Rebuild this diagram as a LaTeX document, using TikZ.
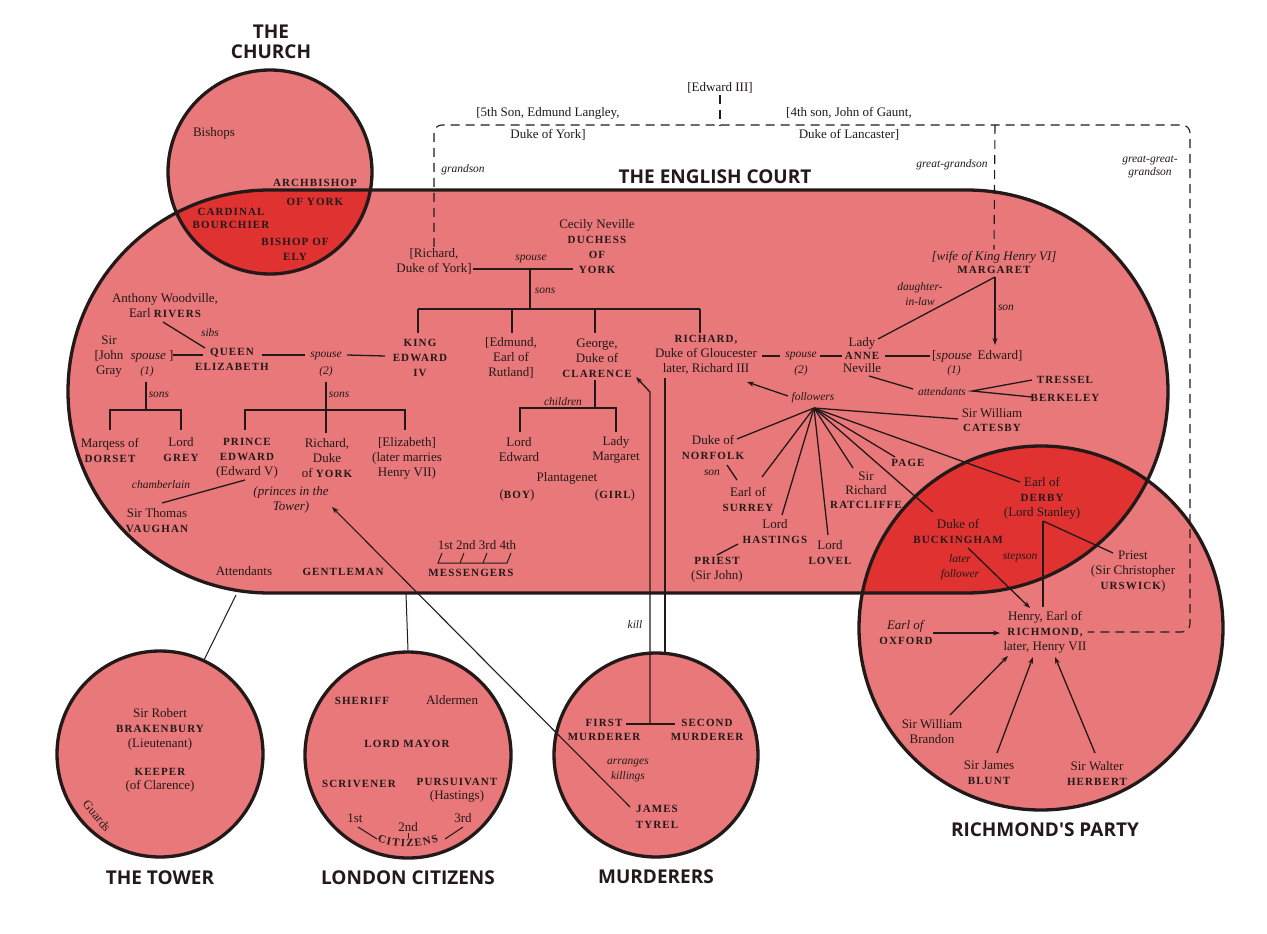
\documentclass[tikz,border=0pt]{standalone}
\usepackage{fontspec}
\setmainfont{Liberation Serif}
\newfontfamily\capsfont{Liberation Serif}[LetterSpace=10]
\newfontfamily\titlefont{Open Sans}
\usetikzlibrary{arrows.meta}
\definecolor{pinkfill}{RGB}{233,120,122}
\definecolor{redfill}{RGB}{225,50,50}
\definecolor{ink}{RGB}{35,25,25}
\newcommand\SC[1]{{\capsfont\bfseries\fontsize{11}{15}\selectfont #1}}
\begin{document}
\begin{tikzpicture}[x=1pt,y=-1pt,
  every node/.style={text=ink, inner sep=1pt},
  txt/.style={font=\fontsize{13}{15}\selectfont, align=center},
  lab/.style={font=\itshape\fontsize{11.5}{13}\selectfont, align=center},
  capt/.style={font=\capsfont\bfseries\fontsize{11}{15}\selectfont, align=center},
  ttl/.style={font=\titlefont\bfseries\fontsize{19}{22}\selectfont, align=center},
  conn/.style={draw=ink, line width=1.3pt},
  thinl/.style={draw=ink, line width=1pt},
  arr/.style={conn, -{Stealth[length=7pt,width=5pt]}},
  dsh/.style={draw=ink, line width=1.1pt, dash pattern=on 9pt off 6pt},
  ring/.style={draw=ink, line width=3.3pt},
  disc/.style={circle, fill=pinkfill, draw=ink, line width=3.3pt, inner sep=0pt},
]
\useasboundingbox (0,0) rectangle (1267,934);
\fill[white] (0,0) rectangle (1267,934);

% ---------- big shapes ----------
\fill[pinkfill] (270,172) circle[radius=102];
\fill[pinkfill, rounded corners=201.5pt] (68,190) rectangle (1168,593);
\fill[pinkfill] (1041,628) circle[radius=182];
\begin{scope}
  \clip[rounded corners=201.5pt] (68,190) rectangle (1168,593);
  \fill[redfill] (270,172) circle[radius=102];
  \fill[redfill] (1041,628) circle[radius=182];
\end{scope}
\draw[ring] (270,172) circle[radius=102];
\draw[ring] (1041,628) circle[radius=182];
\draw[ring, rounded corners=201.5pt] (68,190) rectangle (1168,593);
\node[circle, minimum size=204pt, inner sep=0pt] (church) at (270,172) {};
\node[circle, minimum size=364pt, inner sep=0pt] (richmondP) at (1041,628) {};
\coordinate (courtTower) at (236,595);
\coordinate (courtLondon) at (406,594);

\node[disc, minimum size=206pt] (tower) at (160,754) {};
\node[disc, minimum size=206pt] (london) at (408,755) {};
\node[disc, minimum size=204pt] (murderers) at (656,755) {};

% ---------- titles ----------
\node[ttl] (tChurch) at (271,42) {THE\\[-2pt]CHURCH};
\node[ttl] (tCourt) at (715,177) {THE ENGLISH COURT};
\node[ttl] (tTower) at (160,878) {THE TOWER};
\node[ttl] (tLondon) at (408,878) {LONDON CITIZENS};
\node[ttl] (tMurd) at (656,877) {MURDERERS};
\node[ttl] (tRich) at (1045,830) {RICHMOND'S PARTY};

% ---------- church ----------
\node[txt] (bishops) at (214,133) {Bishops};
\node[capt] (archy) at (315,192.5) {ARCHBISHOP\\[4pt]OF YORK};
\node[capt] (bourchier) at (231,218.5) {CARDINAL\\[-1.5pt]BOURCHIER};
\node[capt] (ely) at (295,249.5) {BISHOP OF\\ELY};

% ---------- ancestry (dashed) ----------
\node[txt] (e3) at (720,88) {{[}Edward III]};
\node[txt] (langley) at (548,124) {{[}5th Son, Edmund Langley,\\[7pt]Duke of York]};
\node[txt] (gaunt) at (849,124) {{[}4th son, John of Gaunt,\\[7pt]Duke of Lancaster]};
\node[lab] (grandson) at (463,170) {grandson};
\node[lab] (ggs) at (952,165) {great-grandson};
\node[lab] (gggs) at (1150,167) {great-great-\\grandson};

% ---------- York family ----------
\node[txt] (cecily) at (597,246.5) {Cecily Neville\\\SC{DUCHESS}\\\SC{OF}\\\SC{YORK}};
\node[txt] (ryork) at (434,261) {{[}Richard,\\Duke of York]};
\node[lab] (sp0) at (531,259) {spouse};
\node[lab] (sons0) at (545,291) {sons};
\draw[conn] (ryork.east |- 0,269) -- (573,269);
\draw[conn] (530,269) -- (530,309);
\draw[conn] (418,309) -- (700,309);

\node[capt] (kingE) at (420,358) {KING\\EDWARD\\IV};
\node[txt] (edmund) at (511,357.5) {{[}Edmund,\\Earl of\\Rutland]};
\node[txt] (george) at (597,358) {George,\\Duke of\\\SC{CLARENCE}};
\node[txt] (richard) at (706,355) {\SC{RICHARD,}\\Duke of Gloucester\\later, Richard III};
\draw[conn] (418,309) -- (418,333);
\draw[conn] (512,309) -- (512,333);
\draw[conn] (595,309) -- (595,333);
\draw[conn] (700,309) -- (700,333);

% ---------- Woodville side ----------
\node[txt] (rivers) at (165,305.5) {Anthony Woodville,\\Earl \SC{RIVERS}};
\node[lab] (sibs) at (210,333) {sibs};
\node[capt] (queen) at (232,359.5) {QUEEN\\ELIZABETH};
\draw[conn] (163,322) -- (205,348);
\node[txt] (gray) at (109,356.5) {Sir\\{[}John\\Gray};
\node[txt] (sp1) at (152,356) {\textit{spouse} ]};
\node[lab] (n1) at (147,372) {(1)};
\draw[conn] (173,355) -- (203,355);
\draw[conn] (262,355) -- (305,355);
\node[lab] (sp2) at (326,356) {spouse};
\node[lab] (n2) at (326,372) {(2)};
\draw[conn] (347,355) -- (385,356);

\draw[conn] (146,382) -- (146,410);
\node[lab] (sonsL) at (159,395) {sons};
\draw[conn] (110,430) -- (110,410) -- (181,410) -- (181,430);
\node[txt] (dorset) at (110,450) {Marqess of\\\SC{DORSET}};
\node[txt] (grey) at (181,450) {Lord\\\SC{GREY}};

\draw[conn] (326,382) -- (326,433);
\node[lab] (sonsR) at (339,395) {sons};
\draw[conn] (245,430) -- (245,410) -- (405,410) -- (405,430);
\node[txt] (pedward) at (247,458) {\SC{PRINCE}\\\SC{EDWARD}\\(Edward V)};
\node[txt] (ryork2) at (327,458) {Richard,\\Duke\\of \SC{YORK}};
\node[txt] (eliz) at (407,458) {{[}Elizabeth]\\(later marries\\Henry VII)};
\node[lab] (chamb) at (161,485) {chamberlain};
\draw[conn] (245,480) -- (162,503);
\node[txt] (vaughan) at (157,520.5) {Sir Thomas\\\SC{VAUGHAN}};
\node[txt, font=\itshape\fontsize{13}{15}\selectfont] (princes) at (291,499.5) {(princes in the\\Tower)};

\node[txt] (attendants) at (244,571) {Attendants};
\node[capt] (gentleman) at (343,572) {GENTLEMAN};
\node[txt] (msgnum) at (477,545) {1st 2nd 3rd 4th};
\node[capt] (msg) at (471,573) {MESSENGERS};
\draw[thinl] (442,553) -- (438,563) -- (507,563) -- (511,553);
\draw[thinl] (460,563) -- (464,553);
\draw[thinl] (483,563) -- (487,553);

% ---------- Clarence children ----------
\draw[conn] (595,380) -- (595,408);
\node[lab] (children) at (563,402) {children};
\draw[conn] (520,432) -- (520,408) -- (616,408) -- (616,432);
\node[txt] (ledward) at (519,449.5) {Lord\\Edward};
\node[txt] (lmarg) at (616,449.5) {Lady\\Margaret};
\node[txt] (plant) at (567,478) {Plantagenet};
\node[txt] (boy) at (517,495) {(\SC{BOY})};
\node[txt] (girl) at (615,495) {(\SC{GIRL})};

% ---------- Anne / Margaret ----------
\draw[conn] (762,356) -- (780,356);
\node[lab] (sp3) at (801,356) {spouse};
\node[lab] (n3) at (801,371) {(2)};
\draw[conn] (820,356) -- (842,356);
\node[txt] (anne) at (862,355) {Lady\\[-2pt]\SC{ANNE}\\[-2pt]Neville};
\draw[conn] (885,356) -- (930,356);
\node[txt] (spE) at (952,356) {{[}\textit{spouse}};
\node[txt] (edward) at (1000,356) {Edward]};
\node[lab] (n4) at (954,371) {(1)};
\node[txt] (margaret) at (994,262) {\textit{{[}wife of King Henry VI]}\\[-2pt]\SC{MARGARET}};
\draw[arr] (995,277) -- (995,345);
\draw[conn] (995,277) -- (878,339);
\node[lab] (son) at (1006,308) {son};
\node[lab] (dil) at (920,294.5) {daughter-\\[2pt]in-law};

\node[lab] (attd) at (942,392) {attendants};
\draw[conn] (869,376) -- (913,389);
\draw[conn] (1032,380) -- (972,391) -- (1032,397);
\node[capt] (tressel) at (1065,380) {TRESSEL};
\node[capt] (berkeley) at (1065,398) {BERKELEY};
\node[txt] (catesby) at (992,420) {Sir William\\[-1pt]\SC{CATESBY}};

% ---------- followers ----------
\node[lab] (foll) at (813,398) {followers};
\draw[arr] (788,396) -- (747,382);
\coordinate (hub) at (814,408);
\draw[conn] (hub) -- (958,419);
\draw[conn] (hub) -- (737,439);
\draw[conn] (hub) -- (762,477);
\draw[conn] (hub) -- (782,515);
\draw[conn] (hub) -- (828,535);
\draw[conn] (hub) -- (853,468);
\draw[conn] (hub) -- (895,457);
\draw[conn] (hub) -- (933,512);
\draw[conn] (hub) -- (1020,482);

\node[txt] (norfolk) at (713,447.5) {Duke of\\\SC{NORFOLK}};
\node[lab] (sonN) at (712,473) {son};
\draw[conn] (727,465) -- (737,480);
\node[txt] (surrey) at (748,499) {Earl of\\\SC{SURREY}};
\node[txt] (hastings) at (775,532) {Lord\\\SC{HASTINGS}};
\draw[conn] (738,544) -- (717,555);
\node[txt] (priestJ) at (717,570) {\SC{PRIEST}\\(Sir John)};
\node[txt] (lovel) at (830,553) {Lord\\\SC{LOVEL}};
\node[txt] (ratcliffe) at (866,490) {Sir\\[-1pt]Richard\\[-1pt]\SC{RATCLIFFE}};
\node[capt] (page) at (908,463) {PAGE};
\node[txt] (derby) at (1042,498) {Earl of\\\SC{DERBY}\\(Lord Stanley)};
\node[txt] (buck) at (958,531) {Duke of\\\SC{BUCKINGHAM}};

% ---------- Richmond's party ----------
\node[lab] (later) at (960,567.5) {later\\[2pt]follower};
\node[lab] (stepson) at (1020,557) {stepson};
\draw[arr] (968,548) -- (1030,608);
\draw[conn] (1043,521) -- (1043,607);
\draw[conn] (1043,521) -- (1113,553);
\node[txt] (priestU) at (1133,572) {Priest\\(Sir Christopher\\\SC{URSWICK})};
\node[txt] (henry) at (1045,632) {Henry, Earl of\\\SC{RICHMOND,}\\later, Henry VII};
\node[txt] (oxford) at (906,632.5) {\textit{Earl of}\\\SC{OXFORD}};
\draw[arr] (933,633) -- (1000,633);
\node[txt] (brandon) at (932,732) {Sir William\\Brandon};
\draw[arr] (950,715) -- (1008,656);
\node[txt] (blunt) at (989,773) {Sir James\\\SC{BLUNT}};
\draw[arr] (997,753) -- (1033,657);
\node[txt] (herbert) at (1097,773) {Sir Walter\\\SC{HERBERT}};
\draw[arr] (1095,753) -- (1055,657);

% ---------- dashed lineage ----------
\draw[dsh] (e3.south) -- (720,125);
\draw[dsh, rounded corners=8pt] (ryork.north) -- (ryork.north |- 0,125) -- (1190,125) -- (1190,632) -- (henry.east);
\draw[dsh] (995,125) -- (margaret.north);

% ---------- murderers ----------
\draw[arr] (650,724) -- (650,392) -- (636,377);
\draw[conn] (665,653) -- (665,378);
\node[lab] (kill) at (635,625) {kill};
\draw[conn] (626,724) -- (675,724);
\node[capt] (first) at (604,730) {FIRST\\[-1pt]MURDERER};
\node[capt] (second) at (707,730) {SECOND\\[-1pt]MURDERER};
\node[lab] (arranges) at (628,770.5) {arranges\\[2pt]killings};
\node[capt] (tyrel) at (657,817) {JAMES\\[1pt]TYREL};
\draw[arr, line width=1.1pt] (630,807) -- (332,507);

% ---------- tower ----------
\draw[thinl] (courtTower) -- (204,660);
\node[txt] (brak) at (160,729) {Sir Robert\\\SC{BRAKENBURY}\\(Lieutenant)};
\node[txt] (keeper) at (160,780) {\SC{KEEPER}\\[-1pt](of Clarence)};
\node[txt, font=\fontsize{12.5}{14}\selectfont, rotate=-50] (guards) at (97,816) {Guards};

% ---------- London ----------
\draw[thinl] (courtLondon) -- (london.north);
\node[capt] (sheriff) at (362,701) {SHERIFF};
\node[txt] (alder) at (452,700) {Aldermen};
\node[capt] (mayor) at (407,744) {LORD MAYOR};
\node[capt] (scriv) at (359,784) {SCRIVENER};
\node[txt] (purs) at (457,790.5) {\SC{PURSUIVANT}\\[-1pt](Hastings)};
\node[txt] (c1) at (355,818) {1st};
\node[txt] (c2) at (408,827) {2nd};
\node[txt] (c3) at (463,818) {3rd};
\foreach \ch/\a [count=\i] in {C/-17.1, I/-12.4, T/-7.8, I/-3.3, Z/1.2, E/6.6, N/12.3, S/17.6} {
  \node[capt, rotate=\a] (cit\i) at ({408+88*sin(\a)},{755+88*cos(\a)}) {\ch};
}
\draw[thinl] (358,827) -- (377,839);
\draw[thinl] (463,827) -- (445,839);
\draw[thinl] (408,833) -- (408,838);
\end{tikzpicture}
\end{document}
